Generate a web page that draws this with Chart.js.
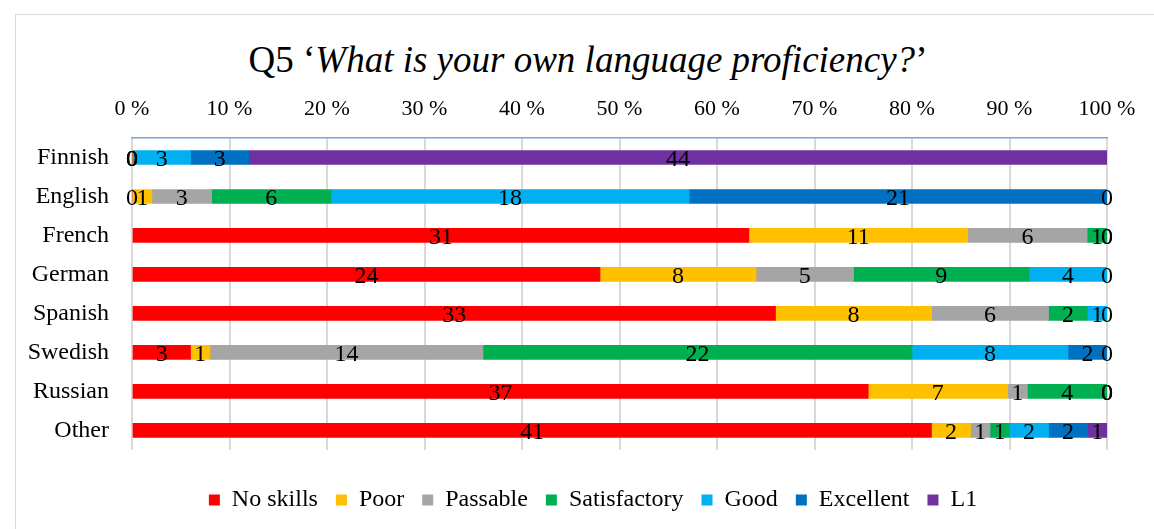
<!DOCTYPE html>
<html lang="en">
<head>
    <meta charset="UTF-8">
    <title>Q5 Language proficiency</title>
    <script src="https://cdn.jsdelivr.net/npm/chart.js"></script>
    <style>
        body { margin: 0; background: #fff; font-family: 'Liberation Serif', 'Times New Roman', serif; }
        .wrap { position: relative; width: 1154px; height: 529px; overflow: hidden; }
        .frame { position: absolute; left: 15px; top: 14px; width: 1160px; height: 560px; border: 1px solid #d9d9d9; box-sizing: border-box; }
        .title { position: absolute; left: 0; width: 1176px; top: 38px; text-align: center; font-size: 37px; color: #000; }
        canvas { position: absolute; left: 0; top: 0; }
    </style>
</head>
<body>
<div class="wrap">
    <div class="frame"></div>
    <div class="title">Q5 ‘<i>What is your own language proficiency?</i>’</div>
    <canvas id="chart" width="1154" height="529"></canvas>
</div>
<script>
const languages = ['Finnish', 'English', 'French', 'German', 'Spanish', 'Swedish', 'Russian', 'Other'];
const levels = ['No skills', 'Poor', 'Passable', 'Satisfactory', 'Good', 'Excellent', 'L1'];
const levelColors = ['#FF0000', '#FFC000', '#A5A5A5', '#00B050', '#00B0F0', '#0070C0', '#7030A0'];

// counts per level, one entry per language (null = not shown)
const noSkills     = [0, 0, 31, 24, 33, 3, 37, 41];
const poor         = [0, 1, 11, 8, 8, 1, 7, 2];
const passable     = [0, 3, 6, 5, 6, 14, 1, 1];
const satisfactory = [0, 6, 1, 9, 2, 22, 4, 1];
const good         = [3, 18, 0, 4, 1, 8, 0, 2];
const excellent    = [3, 21, 0, 0, 0, 2, 0, 2];
const l1           = [44, 0, null, null, null, 0, 0, 1];

const counts = [noSkills, poor, passable, satisfactory, good, excellent, l1];
const totals = languages.map((_, i) => counts.reduce((s, arr) => s + (arr[i] || 0), 0));

const datasets = levels.map((name, k) => ({
    label: name,
    data: counts[k].map((v, i) => v === null ? null : v / totals[i] * 100),
    counts: counts[k],
    backgroundColor: levelColors[k],
    borderWidth: 0,
    barThickness: 14
}));

const serif = '"Liberation Serif", "Times New Roman", serif';

// draws the raw counts in the middle of each segment
const labelPlugin = {
    id: 'segLabels',
    afterLayout(chart) {
        // legend in the original is centred on the wider outer frame
        const lg = chart.legend;
        lg.left += 16;
        lg.right += 16;
        lg.top += 3;
        lg.bottom += 3;
    },
    afterDatasetsDraw(chart) {
        const ctx = chart.ctx;
        ctx.save();
        ctx.font = '24px ' + serif;
        ctx.fillStyle = '#000';
        ctx.textAlign = 'center';
        ctx.textBaseline = 'middle';
        chart.data.datasets.forEach((ds, di) => {
            const meta = chart.getDatasetMeta(di);
            meta.data.forEach((el, i) => {
                const c = ds.counts[i];
                if (c === null || c === undefined) return;
                ctx.fillText(String(c), (el.x + el.base) / 2, el.y + 2);
            });
        });
        ctx.restore();
    }
};

new Chart(document.getElementById('chart'), {
    type: 'bar',
    data: { labels: languages, datasets: datasets },
    options: {
        indexAxis: 'y',
        responsive: false,
        animation: false,
        devicePixelRatio: 1,
        layout: { padding: { left: 0, right: 0, top: 96, bottom: 10 } },
        scales: {
            x: {
                position: 'top',
                stacked: true,
                min: 0,
                max: 100,
                ticks: {
                    stepSize: 10,
                    color: '#000',
                    padding: 16,
                    font: { family: serif, size: 22 },
                    callback: v => v + ' %'
                },
                grid: { color: '#d9d9d9', lineWidth: 2, drawTicks: false },
                border: { color: '#7F9FD6', width: 1.5 },
                afterFit(scale) { scale.height = 42; }
            },
            y: {
                stacked: true,
                ticks: {
                    color: '#000',
                    padding: 15,
                    font: { family: serif, size: 24 }
                },
                grid: { display: false },
                border: { display: false },
                afterFit(scale) { scale.width = 132; }
            },
            spacer: {
                type: 'linear',
                position: 'right',
                grid: { display: false },
                border: { display: false },
                ticks: { display: false },
                afterFit(scale) { scale.width = 47; }
            }
        },
        plugins: {
            legend: {
                position: 'bottom',
                title: { display: true, text: ' ', font: { size: 1 }, padding: { top: 11, bottom: 5 } },
                labels: {
                    boxWidth: 11,
                    boxHeight: 11,
                    padding: 18,
                    color: '#000',
                    font: { family: serif, size: 24 }
                }
            },
            tooltip: { enabled: false }
        }
    },
    plugins: [labelPlugin]
});
</script>
</body>
</html>
